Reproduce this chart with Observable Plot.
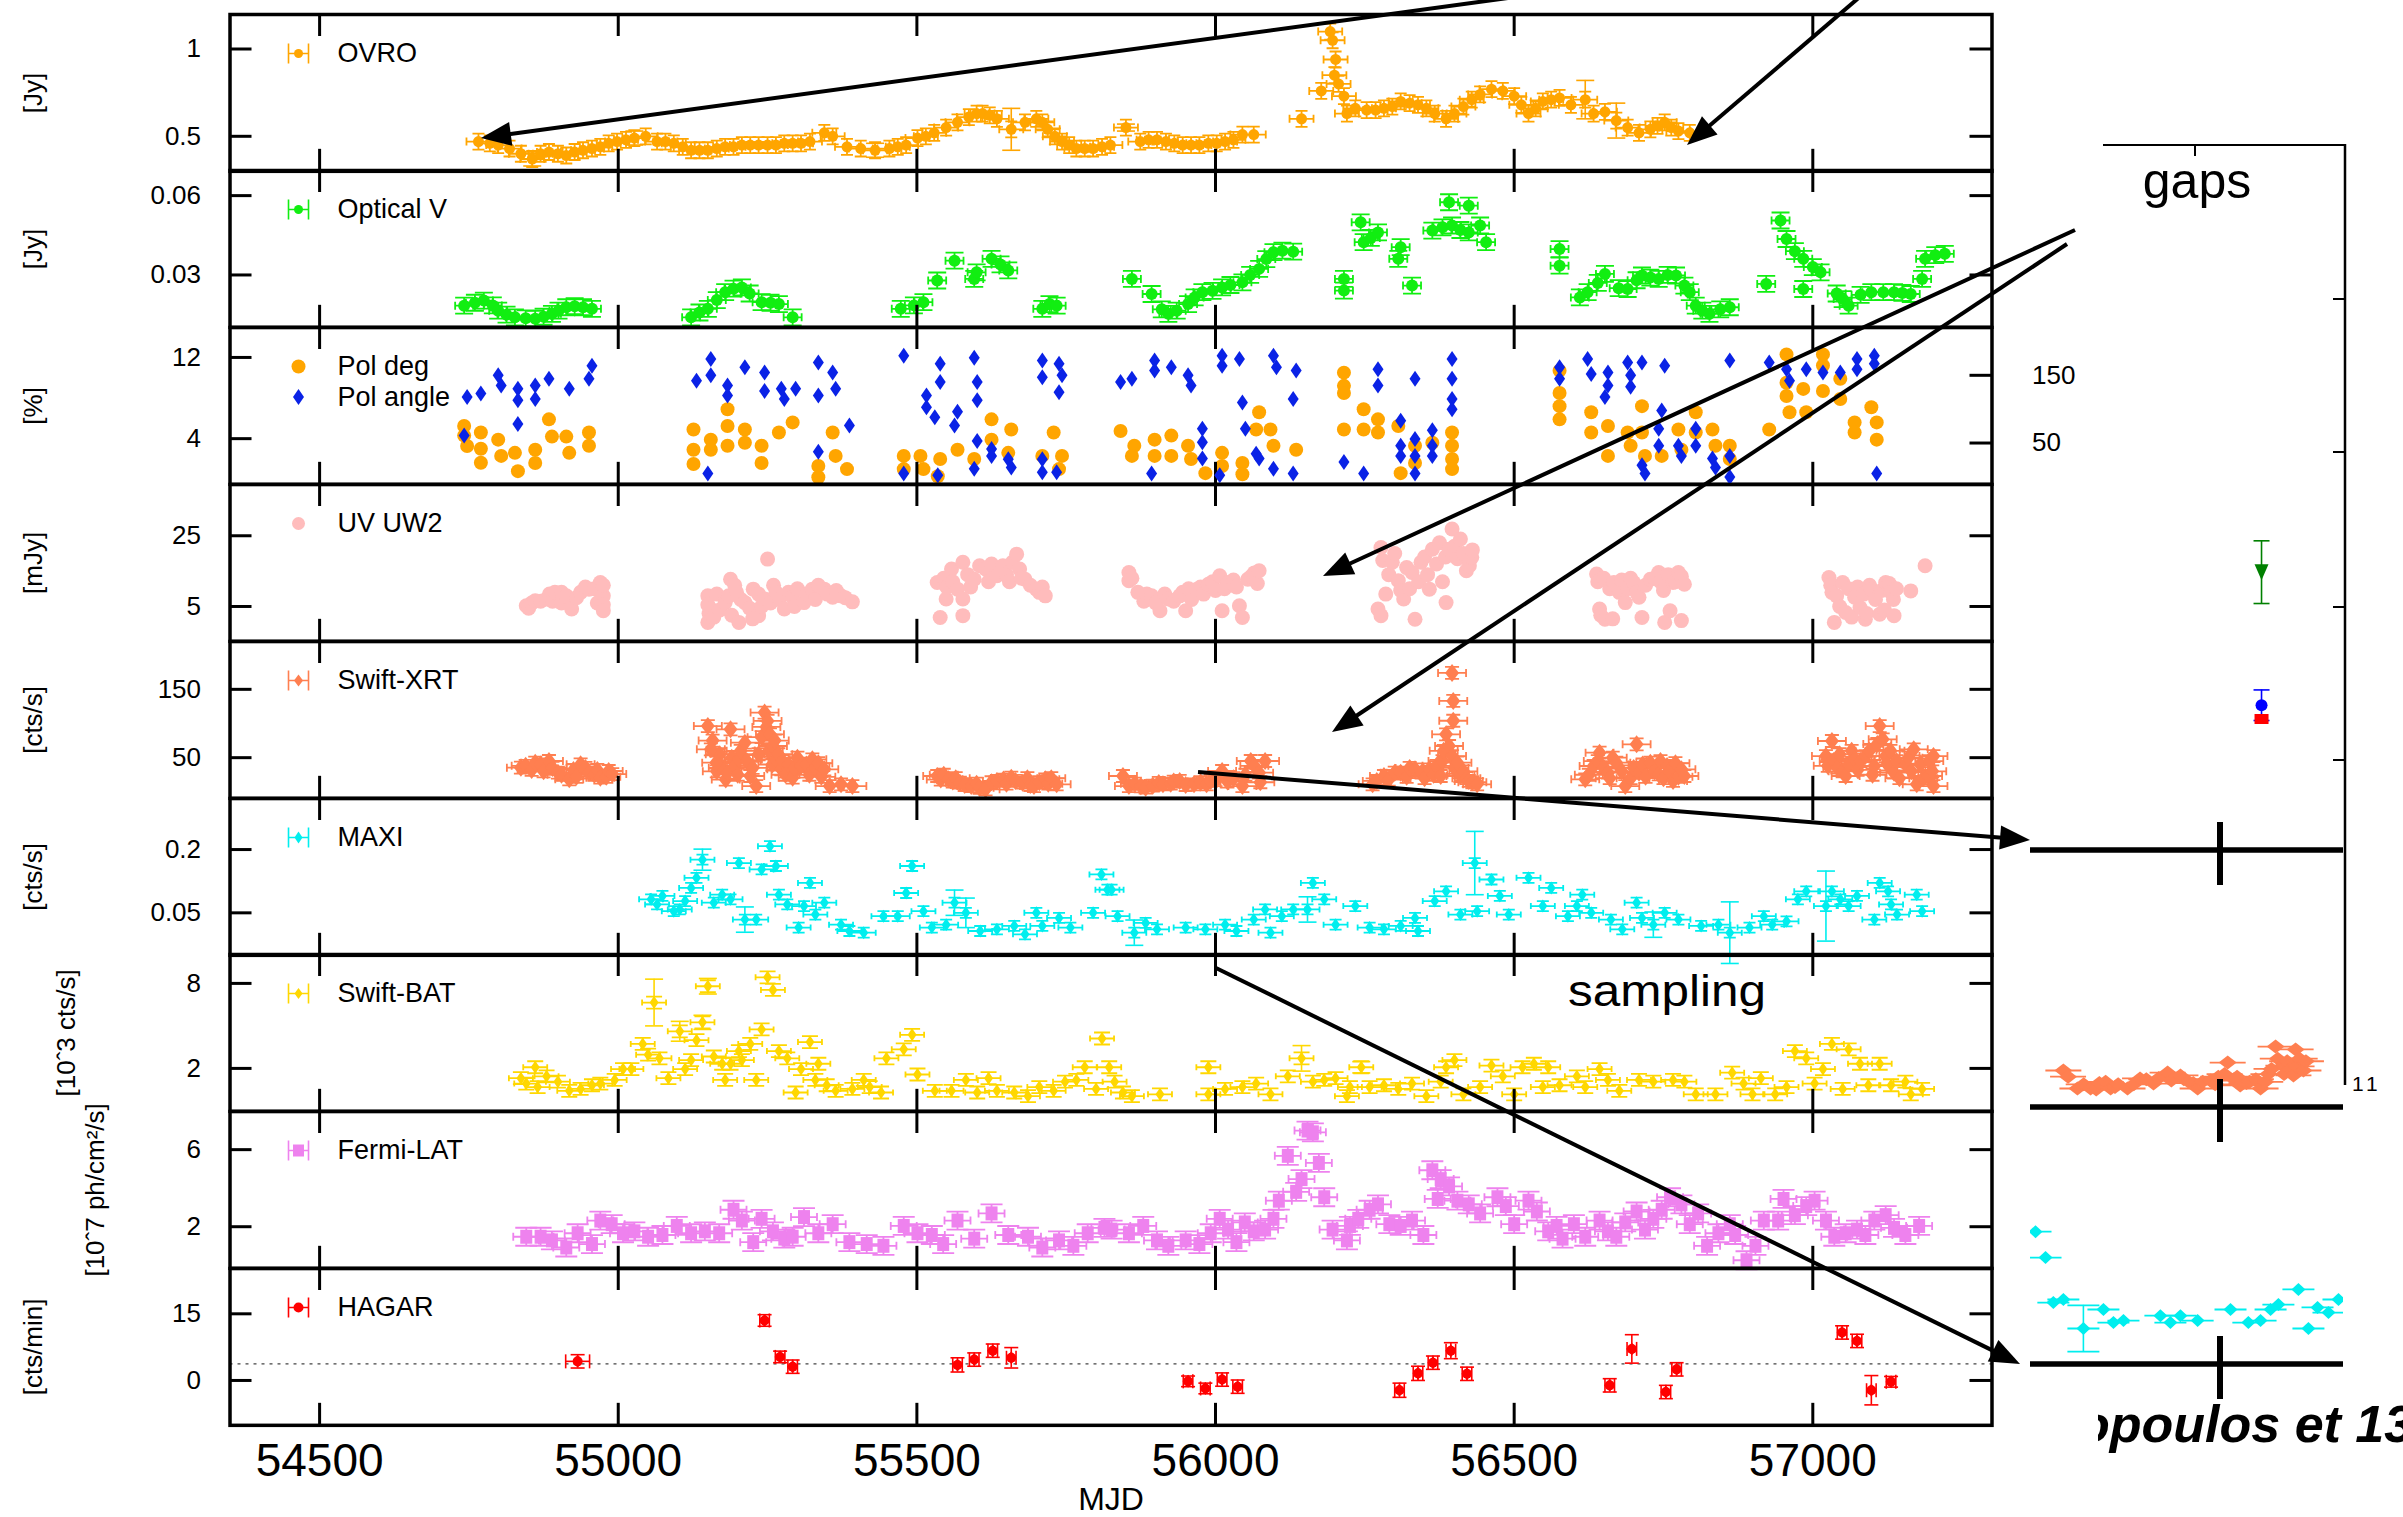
<!DOCTYPE html>
<html><head><meta charset="utf-8">
<script src="https://cdn.jsdelivr.net/npm/d3@7"></script>
<script src="https://cdn.jsdelivr.net/npm/@observablehq/plot@0.6"></script>
<style>
html,body{margin:0;padding:0;background:#fff;}
#page{position:relative;width:2403px;height:1517px;overflow:hidden;background:#fff;font-family:'Liberation Sans',Arial,Helvetica,sans-serif;}
#page svg{position:absolute;}
</style></head><body><div id="page"></div>
<script>
// ---------------- DATA (MJD, value[, err]) ----------------
const xTicks = [54500, 55000, 55500, 56000, 56500, 57000];

const ovro = [[54766,0.47],[54785,0.46],[54799,0.45],[54818,0.43],[54837,0.40],[54856,0.37],[54870,0.40],[54884,0.41],[54899,0.40],[54913,0.39],[54927,0.41],[54941,0.42],[54956,0.43],[54970,0.44],[54984,0.46],[54998,0.47],[55013,0.48],[55027,0.49],[55046,0.50],[55065,0.47],[55079,0.47],[55093,0.46],[55108,0.44],[55122,0.42],[55136,0.42],[55150,0.42],[55165,0.43],[55179,0.44],[55193,0.44],[55207,0.45],[55221,0.45],[55235,0.45],[55250,0.45],[55264,0.45],[55278,0.46],[55292,0.46],[55306,0.46],[55321,0.47],[55345,0.52],[55359,0.50],[55383,0.44],[55406,0.43],[55430,0.42],[55454,0.43],[55468,0.44],[55482,0.45],[55501,0.49],[55515,0.50],[55529,0.52],[55549,0.55],[55568,0.58],[55587,0.61],[55600,0.63],[55610,0.63],[55622,0.62],[55634,0.60],[55658,0.54],[55681,0.58],[55700,0.60],[55710,0.58],[55719,0.54],[55731,0.50],[55743,0.47],[55755,0.45],[55767,0.43],[55781,0.43],[55795,0.43],[55810,0.44],[55824,0.45],[55850,0.55],[55874,0.47],[55888,0.48],[55902,0.48],[55917,0.47],[55931,0.46],[55945,0.45],[55959,0.45],[55973,0.45],[55988,0.46],[56002,0.46],[56016,0.47],[56030,0.48],[56045,0.51],[56064,0.51],[56144,0.60],[56177,0.76],[56192,1.10],[56196,1.05],[56201,0.94],[56199,0.85],[56206,0.80],[56215,0.73],[56220,0.63],[56234,0.66],[56253,0.65],[56268,0.65],[56282,0.66],[56296,0.67],[56310,0.70],[56325,0.69],[56339,0.68],[56353,0.66],[56367,0.63],[56386,0.60],[56400,0.63],[56415,0.67],[56429,0.71],[56443,0.74],[56462,0.77],[56481,0.76],[56500,0.73],[56512,0.68],[56524,0.63],[56536,0.66],[56548,0.70],[56562,0.71],[56576,0.72],[56595,0.68],[56619,0.71],[56633,0.63],[56652,0.64],[56671,0.59],[56690,0.55],[56709,0.52],[56728,0.54],[56740,0.56],[56752,0.58],[56763,0.55],[56775,0.53],[56794,0.52]];
const ovroBig = [[55658,0.54,0.12],[56619,0.71,0.11],[56671,0.59,0.10],[54856,0.37,0.04],[55430,0.42,0.04],[55027,0.49,0.04],[55850,0.55,0.02]];

const optical = [[54742,0.0184],[54760,0.0195],[54775,0.0203],[54790,0.0185],[54799,0.0165],[54813,0.0150],[54827,0.0140],[54845,0.0136],[54861,0.0134],[54875,0.0142],[54889,0.0153],[54900,0.0165],[54913,0.0178],[54927,0.0182],[54941,0.0178],[54956,0.0172],[55122,0.0140],[55136,0.0158],[55150,0.0172],[55165,0.0205],[55179,0.0235],[55193,0.0248],[55207,0.0253],[55220,0.0230],[55240,0.0197],[55255,0.0195],[55269,0.0190],[55292,0.0140],[55473,0.0172],[55495,0.0185],[55511,0.0197],[55534,0.0279],[55563,0.0354],[55596,0.0285],[55600,0.0310],[55625,0.0361],[55640,0.0340],[55653,0.0317],[55710,0.0172],[55722,0.0190],[55734,0.0184],[55860,0.0285],[55893,0.0228],[55910,0.0170],[55921,0.0153],[55935,0.0165],[55954,0.0190],[55965,0.0215],[55978,0.0235],[55995,0.0240],[56011,0.0253],[56025,0.0262],[56045,0.0272],[56058,0.0300],[56073,0.0323],[56085,0.0360],[56097,0.0386],[56112,0.0392],[56130,0.0388],[56215,0.0285],[56215,0.0241],[56243,0.0499],[56248,0.0424],[56260,0.0440],[56272,0.0461],[56306,0.0361],[56310,0.0405],[56329,0.0260],[56363,0.0468],[56380,0.0480],[56391,0.0575],[56396,0.0487],[56410,0.0470],[56424,0.0562],[56424,0.0461],[56443,0.0487],[56453,0.0424],[56576,0.0398],[56576,0.0335],[56610,0.0215],[56623,0.0235],[56640,0.0270],[56652,0.0304],[56675,0.0250],[56690,0.0247],[56705,0.0280],[56714,0.0298],[56728,0.0290],[56742,0.0285],[56757,0.0300],[56771,0.0298],[56785,0.0260],[56794,0.0235],[56804,0.0184],[56815,0.0165],[56827,0.0153],[56845,0.0170],[56861,0.0178],[56922,0.0266],[56946,0.0506],[56956,0.0436],[56970,0.0390],[56984,0.0361],[56984,0.0247],[57000,0.0330],[57013,0.0310],[57040,0.0230],[57050,0.0209],[57060,0.0184],[57080,0.0225],[57098,0.0235],[57118,0.0235],[57136,0.0235],[57150,0.0232],[57164,0.0228],[57183,0.0285],[57188,0.0361],[57205,0.0375],[57221,0.0380]];

const polDeg = [[54742,5.25],[54742,4.3],[54747,3.28],[54770,4.6],[54770,1.63],[54770,3.0],[54799,3.9],[54804,2.3],[54827,2.6],[54832,0.8],[54861,2.9],[54861,1.6],[54884,5.9],[54889,4.2],[54913,4.2],[54918,2.6],[54951,4.6],[54951,3.3],[55126,4.9],[55126,2.9],[55126,1.5],[55155,3.9],[55155,2.9],[55183,6.9],[55183,5.25],[55183,3.3],[55212,4.9],[55212,3.6],[55240,3.3],[55240,1.6],[55269,4.6],[55292,5.6],[55335,1.3],[55335,0.2],[55359,4.6],[55364,2.3],[55383,1.0],[55478,2.3],[55478,1.0],[55506,2.3],[55511,1.0],[55535,0.3],[55539,2.0],[55568,2.9],[55596,2.0],[55625,5.9],[55625,3.9],[55658,4.9],[55653,2.6],[55710,2.3],[55729,4.6],[55743,2.3],[55738,1.0],[55841,4.76],[55864,3.3],[55860,2.3],[55898,3.9],[55898,2.3],[55926,4.3],[55926,2.3],[55954,3.3],[55959,2.0],[55983,0.6],[56011,2.6],[56011,1.3],[56045,1.6],[56045,0.5],[56073,6.6],[56068,4.9],[56092,4.9],[56097,3.3],[56135,2.9],[56215,10.5],[56215,9.2],[56215,8.5],[56215,4.9],[56248,6.9],[56248,4.9],[56272,5.9],[56272,4.6],[56306,5.25],[56310,0.6],[56334,3.3],[56334,1.6],[56363,3.6],[56396,4.6],[56396,3.3],[56396,2.0],[56396,1.0],[56576,10.7],[56576,8.5],[56576,7.2],[56576,5.9],[56629,6.6],[56629,4.6],[56657,5.25],[56657,2.3],[56690,4.6],[56695,3.3],[56714,7.2],[56714,4.6],[56719,2.3],[56747,2.3],[56775,4.9],[56780,2.9],[56804,6.6],[56804,4.6],[56832,4.9],[56837,3.3],[56861,3.3],[56861,2.0],[56927,4.9],[56956,12.3],[56956,9.5],[56956,8.2],[56961,6.6],[56984,8.9],[56989,6.6],[57017,12.3],[57017,11.2],[57017,8.7],[57046,9.9],[57046,7.9],[57070,5.6],[57070,4.6],[57098,7.1],[57107,5.6],[57107,3.9]];

const polAng = [[54747,118],[54770,123],[54799,150],[54804,135],[54832,130],[54832,113],[54861,135],[54861,115],[54884,145],[54918,130],[54951,145],[54956,164],[54742,61],[54832,78],[55131,142],[55155,174],[55155,150],[55183,135],[55183,120],[55212,162],[55245,154],[55245,127],[55273,130],[55278,115],[55297,130],[55335,169],[55335,120],[55359,154],[55364,130],[55335,37],[55387,76],[55150,5],[55478,179],[55516,120],[55516,103],[55530,88],[55539,167],[55539,140],[55568,96],[55563,76],[55596,176],[55601,140],[55601,113],[55601,53],[55625,41],[55625,31],[55653,26],[55658,14],[55596,12],[55478,5],[55535,2.5],[55710,172],[55710,147],[55738,167],[55743,150],[55738,125],[55710,26],[55710,7],[55734,7],[55841,140],[55860,145],[55898,172],[55898,157],[55926,162],[55954,150],[55959,135],[56011,179],[56011,164],[56040,174],[56097,179],[56102,162],[56135,157],[56045,110],[56130,115],[55978,71],[55978,51],[55978,27],[56007,2.5],[55893,5],[56050,71],[56068,34],[56073,27],[56097,12],[56130,5],[56215,22],[56248,5],[56272,159],[56272,135],[56334,145],[56310,83],[56310,46],[56310,31],[56334,56],[56334,31],[56334,5],[56363,69],[56363,46],[56363,31],[56396,174],[56396,145],[56396,115],[56396,100],[56576,162],[56576,145],[56623,174],[56629,152],[56657,154],[56657,135],[56652,118],[56690,169],[56695,150],[56695,133],[56714,169],[56752,164],[56747,98],[56742,71],[56742,46],[56714,17],[56719,5],[56775,46],[56780,31],[56804,71],[56804,46],[56832,27],[56837,14],[56861,31],[56861,0],[56861,172],[56927,169],[56956,159],[56961,142],[56989,159],[57017,154],[57046,154],[57074,174],[57074,159],[57103,179],[57103,167],[57107,5]];

const uv = [[54846,5.2],[54850,4.5],[54855,6],[54861,6.6],[54870,6.5],[54880,7.1],[54885,8.5],[54890,6.5],[54894,9.0],[54905,9],[54905,6],[54913,8.0],[54922,4.3],[54930,7.5],[54937,9.0],[54945,10.5],[54951,9.9],[54960,10],[54965,6],[54970,11.8],[54975,8.0],[54975,11],[54975,5.5],[54975,3.8],
[55150,8.0],[55150,5.5],[55152,3],[55150,0.5],[55155,4.3],[55160,2],[55165,8.5],[55170,4],[55179,6.1],[55185,8],[55188,12.7],[55190,2.5],[55195,11],[55198,9.0],[55202,0.5],[55205,7],[55212,6.1],[55220,4.5],[55225,1.5],[55226,9.9],[55235,8.5],[55235,2.4],[55240,5],[55245,7.1],[55250,18.4],[55255,6],[55260,11],[55264,9.0],[55270,7],[55278,4.3],[55285,9],[55292,7.6],[55295,5],[55300,10],[55311,6.1],[55315,8.5],[55325,9.9],[55330,7],[55335,11],[55345,9.9],[55350,8.5],[55359,7.6],[55365,9.5],[55373,8.0],[55380,7.5],[55392,6.3],
[55534,11.8],[55539,1.9],[55545,13],[55549,7.1],[55550,10.5],[55558,15.6],[55560,12],[55568,9.9],[55577,17.5],[55577,7.1],[55577,2.4],[55585,14],[55590,10.5],[55596,12.7],[55605,16.5],[55615,15.6],[55620,12],[55625,17],[55634,13.7],[55644,16.5],[55650,14],[55655,12],[55660,17.5],[55667,19.8],[55672,15.6],[55675,13],[55681,12.7],[55690,11],[55700,9.9],[55705,9],[55710,10.5],[55715,8.0],
[55855,14.6],[55855,12.3],[55860,13],[55870,9],[55880,6.5],[55885,8.5],[55893,8.0],[55900,6],[55907,3.8],[55915,8.5],[55921,7.1],[55930,6.5],[55940,8.0],[55945,9],[55950,3.8],[55955,10],[55960,7],[55969,9.9],[55975,10.5],[55980,8.5],[55988,11.3],[55995,12],[56000,9.5],[56007,13.7],[56011,3.8],[56015,10],[56021,11.8],[56030,12.5],[56035,10.5],[56040,5.2],[56045,1.9],[56054,12.7],[56060,13.5],[56065,14.5],[56070,11.5],[56073,15.1],
[56277,21.7],[56272,4.3],[56277,2.4],[56280,18],[56285,8.5],[56290,14],[56296,17.5],[56300,20],[56306,12.3],[56310,9.5],[56315,7.1],[56320,16],[56325,10],[56329,14.6],[56334,1.4],[56340,12],[56344,17.5],[56350,19],[56355,14],[56358,9.9],[56363,21.2],[56370,17],[56375,23],[56380,12],[56385,19],[56386,6.1],[56391,21.2],[56396,26.9],[56400,22],[56405,18.5],[56410,24.1],[56415,20],[56420,15.1],[56425,16.5],[56429,18.9],[56430,21],
[56638,14.2],[56640,12],[56643,4.3],[56645,2.5],[56650,13],[56652,1.4],[56660,10],[56665,1.5],[56667,11.8],[56676,9.0],[56680,12.5],[56686,6.1],[56690,10],[56695,13],[56700,11.8],[56705,9],[56709,7.6],[56714,1.9],[56720,11],[56728,12.7],[56735,13],[56742,14.6],[56745,12],[56750,9.5],[56752,0.5],[56758,14],[56761,3.8],[56766,11.8],[56770,12],[56775,14.6],[56780,13.5],[56780,1.0],[56785,11.3],
[57027,13.2],[57030,11],[57032,9.0],[57036,0.5],[57040,8],[57045,5],[57050,11.8],[57055,3.3],[57060,10],[57065,2],[57070,7.6],[57075,10.5],[57079,4.7],[57085,8.5],[57088,1.4],[57090,3],[57095,11],[57098,9.9],[57105,7],[57112,2.8],[57115,9.5],[57120,4],[57122,11.8],[57128,11.5],[57131,9.0],[57135,7],[57136,2.4],[57140,10],[57164,9.4],[57188,16.5]];

const xrt = [[54837,35.4],[54845,38],[54855,32],[54861,42.7],[54870,40],[54875,30],[54884,45.1],[54890,35],[54899,28],[54905,25],[54918,18.3],[54925,32],[54930,22],[54937,40.2],[54945,35],[54951,28],[54960,25],[54965,32],[54970,20.7],[54980,22],[54984,30.5],[54990,26],
[55150,96.3],[55158,75],[55165,30],[55170,55],[55175,35],[55180,18],[55188,91.5],[55155,62.2],[55164,42.7],[55183,28],[55190,50],[55195,38],[55200,25],[55202,47.6],[55205,60],[55212,72],[55215,45],[55221,23.2],[55225,35],[55231,8.5],[55235,55],[55240,80],[55245,116],[55248,95],[55250,103.7],[55252,60],[55254,84.1],[55258,40],[55259,67.1],[55262,75],[55264,47.6],[55268,55],[55273,32.9],[55275,45],[55280,25],[55285,40],[55292,20.7],[55295,35],[55300,50],[55306,37.8],[55315,40],[55320,25],[55325,47.6],[55330,35],[55335,42],[55340,22],[55345,32.9],[55354,8.5],[55373,11],[55392,8.5],
[55534,23.2],[55540,18],[55545,25],[55553,18.3],[55560,15],[55565,20],[55572,13.4],[55580,10],[55591,8.5],[55600,12],[55605,6],[55615,3.7],[55625,14],[55634,15.9],[55645,18],[55650,12],[55658,20.7],[55665,16],[55677,13.4],[55685,20],[55690,10],[55696,8.5],[55705,14],[55715,18.3],[55720,12],[55725,20],[55734,11],
[55845,23.2],[55855,8.5],[55865,12],[55875,8],[55883,6.1],[55895,9],[55905,13],[55912,11],[55925,12],[55930,15],[55940,15.9],[55950,10],[55964,11],[55975,14],[55985,11],[55992,15.9],[56000,17],[56011,30.5],[56020,15],[56030,20],[56045,8.5],[56050,25],[56059,45.1],[56065,38],[56073,28],[56075,14],[56083,45.1],
[56263,11],[56270,16],[56282,23.2],[56290,18],[56300,28],[56310,28],[56320,22],[56325,35],[56334,32.9],[56345,28],[56350,20],[56358,32.9],[56365,25],[56370,38],[56377,23.2],[56380,45],[56382,60],[56386,84.1],[56391,67.1],[56396,174],[56398,133],[56398,104],[56396,52.4],[56400,35],[56405,42.7],[56410,23.2],[56415,30],[56420,20],[56424,15.9],[56430,14],[56438,11],
[56619,18.3],[56625,25],[56633,37.8],[56640,45],[56643,57.3],[56650,35],[56657,28],[56660,20],[56665,50],[56671,42.7],[56680,30],[56686,8.5],[56695,20],[56700,35],[56705,69.5],[56709,28],[56715,40],[56720,22],[56728,42.7],[56735,30],[56742,25.6],[56745,45],[56750,20],[56756,37.8],[56760,30],[56766,15.9],[56770,42],[56775,22],[56780,32.9],[56785,23.2],
[57022,52.4],[57025,38],[57032,74.4],[57035,45],[57041,35.4],[57045,55],[57050,30],[57055,23.2],[57060,40],[57065,60],[57070,47.6],[57075,32],[57080,45],[57088,52.4],[57095,60],[57100,25],[57103,37.8],[57108,70],[57112,96.3],[57117,76.8],[57122,52.4],[57125,40],[57130,60],[57136,28],[57140,45],[57145,20],[57155,40.2],[57160,50],[57165,30],[57169,62.2],[57174,11],[57180,40],[57185,20],[57193,23.2],[57195,45],[57200,30],[57202,52.4],[57202,8.5]];

const maxi = [[55055,0.082],[55065,0.070],[55074,0.090],[55093,0.054],[55103,0.058],[55112,0.078],[55122,0.109],[55131,0.133],[55141,0.176],[55160,0.074],[55174,0.093],[55188,0.082],[55202,0.168],[55212,0.034],[55231,0.034],[55240,0.153],[55254,0.208],[55264,0.161],[55269,0.093],[55283,0.070],[55302,0.015],[55311,0.066],[55321,0.121],[55330,0.046],[55345,0.074],[55373,0.022],[55387,0.007],[55411,0.003],[55444,0.042],[55468,0.042],[55482,0.097],[55492,0.161],[55511,0.054],[55525,0.015],[55549,0.022],[55563,0.074],[55582,0.050],[55606,0.007],[55634,0.011],[55663,0.019],[55681,-0.001],[55700,0.050],[55710,0.019],[55738,0.038],[55757,0.015],[55795,0.050],[55809,0.141],[55819,0.105],[55826,0.105],[55836,0.042],[55864,0.003],[55883,0.026],[55902,0.011],[55950,0.015],[55983,0.011],[56016,0.022],[56035,0.007],[56064,0.034],[56083,0.058],[56092,0.003],[56111,0.042],[56130,0.058],[56154,0.058],[56163,0.121],[56182,0.082],[56201,0.022],[56234,0.066],[56258,0.015],[56282,0.011],[56310,0.019],[56334,0.038],[56339,0.007],[56367,0.078],[56386,0.101],[56410,0.046],[56434,0.168],[56438,0.054],[56462,0.129],[56476,0.090],[56491,0.046],[56524,0.133],[56562,0.109],[56548,0.066],[56590,0.042],[56605,0.066],[56614,0.093],[56629,0.050],[56662,0.034],[56681,0.011],[56705,0.074],[56714,0.038],[56733,0.022],[56752,0.050],[56775,0.034],[56813,0.019],[56842,0.022],[56861,0.003],[56894,0.015],[56918,0.042],[56932,0.022],[56956,0.030],[56975,0.082],[56989,0.101],[57022,0.066],[57032,0.101],[57046,0.082],[57060,0.066],[57074,0.090],[57103,0.034],[57112,0.121],[57126,0.101],[57131,0.070],[57141,0.046],[57174,0.093],[57183,0.054]];
const maxiBig = [[55141,0.176,0.025],[55212,0.034,0.03],[55563,0.074,0.03],[55582,0.050,0.035],[55864,0.003,0.03],[56154,0.058,0.03],[56434,0.168,0.075],[56733,0.022,0.03],[56861,0.003,0.073],[57022,0.066,0.083]];

const bat = [[54837,1.31],[54846,0.93],[54861,2.08],[54865,0.68],[54880,1.44],[54899,1.06],[54918,0.42],[54937,0.55],[54956,0.81],[54970,0.93],[54994,1.19],[55008,1.95],[55022,1.95],[55041,3.73],[55050,2.97],[55060,6.65],[55069,2.71],[55084,1.31],[55103,4.62],[55112,1.95],[55122,2.59],[55131,3.99],[55141,5.25],[55150,7.8],[55160,2.84],[55174,2.33],[55179,1.19],[55188,2.33],[55202,3.22],[55207,2.59],[55221,3.73],[55231,1.19],[55240,4.75],[55250,8.43],[55259,7.54],[55269,3.22],[55283,2.71],[55297,0.3],[55306,1.95],[55321,3.86],[55335,2.33],[55330,1.19],[55349,0.81],[55364,0.42],[55392,0.55],[55411,1.19],[55421,0.68],[55440,0.3],[55449,2.71],[55478,3.35],[55492,4.37],[55501,1.57],[55530,0.42],[55558,0.42],[55582,1.19],[55601,0.3],[55620,1.31],[55634,0.42],[55663,0.3],[55686,0.04],[55705,0.68],[55729,0.42],[55748,1.06],[55767,1.19],[55781,2.08],[55800,0.55],[55810,4.11],[55822,2.08],[55831,1.06],[55845,0.3],[55860,0.04],[55907,0.17],[55988,2.08],[55988,0.17],[56016,0.55],[56045,0.68],[56068,0.93],[56092,0.17],[56121,1.44],[56144,2.71],[56163,1.06],[56182,1.19],[56201,1.31],[56220,0.04],[56225,0.68],[56244,2.08],[56258,0.68],[56282,0.81],[56306,0.55],[56329,0.93],[56353,0.04],[56377,1.06],[56386,2.08],[56400,2.59],[56415,0.17],[56443,0.68],[56462,2.2],[56481,1.44],[56500,0.17],[56514,2.08],[56533,2.33],[56557,2.08],[56548,0.68],[56576,0.81],[56605,1.44],[56619,0.68],[56643,1.95],[56657,1.19],[56676,0.42],[56709,1.19],[56733,1.06],[56766,1.19],[56785,1.06],[56804,0.17],[56837,0.17],[56865,1.7],[56884,0.93],[56899,0.17],[56913,1.31],[56937,0.17],[56956,0.68],[56970,3.22],[56989,2.71],[57003,0.93],[57017,1.95],[57032,3.73],[57050,0.55],[57060,3.35],[57079,2.33],[57093,0.81],[57112,2.33],[57131,0.81],[57155,1.06],[57164,0.17],[57183,0.55]];
const batBig = [[55060,6.65,1.65],[55103,4.62,0.7],[56144,2.71,0.9],[55150,7.8,0.55],[55141,5.25,0.5],[56244,2.08,0.4]];

const lat = [[54846,1.48],[54870,1.48],[54889,1.29],[54913,0.92],[54932,1.66],[54956,1.1],[54970,2.32],[54989,2.13],[55008,1.66],[55027,1.76],[55050,1.48],[55074,1.57],[55098,2.04],[55122,1.66],[55145,1.76],[55169,1.66],[55193,2.88],[55207,2.32],[55226,1.2],[55240,2.41],[55259,1.76],[55278,1.38],[55292,1.48],[55311,2.5],[55335,1.66],[55359,2.13],[55387,1.2],[55416,1.1],[55444,1.01],[55478,2.04],[55501,1.66],[55525,1.57],[55544,1.1],[55568,2.32],[55596,1.38],[55625,2.69],[55653,1.57],[55686,1.48],[55710,0.92],[55738,1.29],[55762,1.01],[55786,1.66],[55814,1.94],[55826,1.85],[55855,1.66],[55879,2.04],[55902,1.29],[55921,1.01],[55950,1.29],[55973,1.1],[55992,1.66],[56007,2.41],[56021,1.85],[56035,1.2],[56049,2.22],[56064,1.76],[56083,1.85],[56097,2.41],[56106,3.35],[56121,5.68],[56135,3.81],[56144,4.47],[56154,6.99],[56163,6.9],[56173,5.31],[56182,3.53],[56196,1.85],[56220,1.29],[56225,2.04],[56239,2.41],[56258,2.88],[56272,3.16],[56291,2.13],[56310,2.04],[56329,2.32],[56348,1.57],[56363,4.93],[56377,4.47],[56391,4.09],[56372,3.44],[56405,3.35],[56424,3.16],[56443,2.69],[56472,3.53],[56486,3.07],[56500,2.13],[56524,3.35],[56538,2.79],[56557,1.76],[56571,2.04],[56581,1.38],[56600,2.13],[56619,1.48],[56643,2.32],[56657,1.76],[56671,1.48],[56686,2.22],[56705,2.79],[56719,1.85],[56733,2.41],[56747,2.88],[56761,3.53],[56780,3.16],[56794,2.13],[56808,2.69],[56823,1.01],[56842,1.66],[56861,2.13],[56870,1.57],[56889,0.26],[56904,1.01],[56918,2.32],[56942,2.32],[56951,3.44],[56970,2.6],[56989,3.07],[57003,3.35],[57022,2.32],[57036,1.48],[57055,1.66],[57074,1.85],[57088,1.57],[57103,2.32],[57122,2.6],[57136,1.94],[57155,1.57],[57178,2.04]];

// HAGAR: MJD, rate, y-error, x-error (days)
const hagar = [[54932,4.3,1.5,20],[55245,13.5,1.3,8],[55271,5.3,1.3,8],[55292,3.1,1.5,8],[55568,3.5,1.6,8],[55596,4.7,1.5,8],[55627,6.7,1.5,8],[55658,5.1,2.3,8],[55954,-0.2,1.2,8],[55983,-1.8,1.2,8],[56011,0.2,1.5,8],[56037,-1.4,1.5,8],[56308,-2.2,1.6,8],[56339,1.6,1.6,8],[56364,4.0,1.5,8],[56394,6.7,1.8,8],[56421,1.5,1.5,8],[56660,-1.1,1.5,8],[56697,7.1,3.2,8],[56754,-2.6,1.5,8],[56772,2.5,1.5,8],[57049,10.8,1.5,8],[57074,8.9,1.5,8],[57098,-2.2,3.3,8],[57131,-0.3,1.2,8]];
const hagarBaseline = [3.73];

// partial inset figure on the right (arbitrary units)
const insetXrt = [[10.5,1.44],[12,1.2],[15,0.74],[17,0.9],[19.2,0.74],[21,0.7],[22,0.95],[24,1.0],[25.6,0.74],[27,0.8],[28,0.9],[31,0.74],[33,0.9],[35,1.13],[37,1.1],[39.3,0.93],[41,1.15],[43.8,1.36],[45,1.05],[47.9,1.25],[49,1.1],[50.5,1.0],[52,0.95],[53.4,0.74],[55,1.0],[57.5,1.05],[59,0.9],[60,1.2],[62,1.3],[63,1.75],[65,1.1],[66,1.2],[67,0.86],[69,0.95],[70,1.0],[72,1.1],[73.5,0.74],[75,1.0],[76,1.3],[77,1.5],[78.3,2.37],[79,1.9],[80.8,1.63],[81,1.3],[82,1.8],[83,1.5],[84,1.25],[84.7,2.26],[85,1.6],[86,1.9],[87.2,1.44],[88,1.8]];
const insetMaxi = [[1.6,5.17],[4.8,4.16],[7.3,2.41],[10.5,2.53],[16.9,1.4],[23.3,2.14],[26.5,1.63],[29.7,1.71],[41.5,1.9],[44.7,1.63],[47.9,1.9],[53.4,1.71],[63.9,2.14],[69.6,1.63],[73.5,1.71],[76.7,2.14],[79.2,2.33],[85.6,2.92],[88.8,1.4],[91.7,2.22],[95.2,2.02],[98.4,2.53]];
const insetMaxiBig = [[16.9,1.4,0.9]];
const gapsGreen = [[6.53,1.23,0.205]];
const gapsBlue = [[6.53,0.36,0.1]];
const gapsRed = [[6.53,0.27]];

// ---------------- LAYOUT / STYLE ----------------
const W = 2403, L = 229.5, R = 1991.5, FW = R - L;
const TOP0 = 13.5, PH = 156.83;
const XD = [54350, 57300];
const FONT = "'Liberation Sans', Arial, Helvetica, sans-serif";
const C = {ovro:"#ffa500", opt:"#11ee11", pdeg:"#ffa500", pang:"#0a22e6", uv:"#ffbcbc", xrt:"#ff7f50", maxi:"#00eeee", bat:"#ffd700", lat:"#ee82ee", hagar:"#ff0000"};

const S = {
  circle: r => ({draw(c){c.moveTo(r,0);c.arc(0,0,r,0,2*Math.PI);c.closePath();}}),
  diamond: (w,h) => ({draw(c){c.moveTo(0,-h);c.lineTo(w,0);c.lineTo(0,h);c.lineTo(-w,0);c.closePath();}}),
  square: (w,h) => ({draw(c){c.moveTo(-w,-h);c.lineTo(w,-h);c.lineTo(w,h);c.lineTo(-w,h);c.closePath();}}),
  tri: (w,h) => ({draw(c){c.moveTo(-w,-h);c.lineTo(w,-h);c.lineTo(0,h);c.closePath();}}),
  err: (hx,hy,cx,cy) => ({draw(c){
    if(hx){c.moveTo(-hx,0);c.lineTo(hx,0); if(cx){c.moveTo(-hx,-cx);c.lineTo(-hx,cx);c.moveTo(hx,-cx);c.lineTo(hx,cx);}}
    if(hy){c.moveTo(0,-hy);c.lineTo(0,hy); if(cy){c.moveTo(-cy,-hy);c.lineTo(cy,-hy);c.moveTo(-cy,hy);c.lineTo(cy,hy);}}
  }}),
  hline: w => ({draw(c){c.moveTo(-w,0);c.lineTo(w,0);}})
};

function series(data, color, o) {
  const X = d => d[0], Y = d => d[1];
  const m = [];
  if (o.big) {
    m.push(Plot.ruleX(o.big, {x: X, y1: d => d[1]-d[2], y2: d => d[1]+d[2], stroke: color, strokeWidth: 1.6}));
    m.push(Plot.dot(o.big.flatMap(d => [[d[0], d[1]-d[2]], [d[0], d[1]+d[2]]]), {x: X, y: Y, symbol: S.hline(o.bigCap || 9), fill: "none", stroke: color, strokeWidth: 1.6}));
  }
  if (o.err) m.push(Plot.dot(data, {x: X, y: Y, symbol: o.err, fill: "none", stroke: color, strokeWidth: o.sw || 1.8}));
  m.push(Plot.dot(data, {x: X, y: Y, symbol: o.sym, fill: color, stroke: "none"}));
  return m;
}

const legErr = S.err(10, 0, 10, 0);

const panels = [
  {domain:[0.2994,1.1976], ticks:[0.5,1], unit:"[Jy]", unitX:33,
   legend:[{label:"OVRO", color:C.ovro, err:legErr, sym:S.circle(4.5)}],
   marks: series(ovro, C.ovro, {sym:S.circle(5.5), err:S.err(12,8,4,6), big:ovroBig, bigCap:9})},
  {domain:[0.0102,0.0695], ticks:[0.03,0.06], unit:"[Jy]", unitX:33,
   legend:[{label:"Optical V", color:C.opt, err:legErr, sym:S.circle(4.5)}],
   marks: series(optical, C.opt, {sym:S.circle(6), err:S.err(9,8,4,9)})},
  {domain:[-0.5,14.95], ticks:[4,12], unit:"[%]", unitX:33, noRight:true,
   legend:[{label:"Pol deg", color:C.pdeg, sym:S.circle(7)}, {label:"Pol angle", color:C.pang, sym:S.diamond(5.5,8)}],
   marks: series(polDeg, C.pdeg, {sym:S.circle(7)})},
  {domain:[-4.86,39.5], ticks:[5,25], unit:"[mJy]", unitX:33,
   legend:[{label:"UV UW2", color:C.uv, sym:S.circle(6.5)}],
   marks: series(uv, C.uv, {sym:S.circle(7.5)})},
  {domain:[-9.5,220], ticks:[50,150], unit:"[cts/s]", unitX:33,
   legend:[{label:"Swift-XRT", color:C.xrt, err:legErr, sym:S.diamond(4.5,6)}],
   marks: series(xrt, C.xrt, {sym:S.diamond(7,9), err:S.err(14,6,4,7)})},
  {domain:[-0.0507,0.321], ticks:[0.05,0.2], unit:"[cts/s]", unitX:33,
   legend:[{label:"MAXI", color:C.maxi, err:legErr, sym:S.diamond(4,6)}],
   marks: series(maxi, C.maxi, {sym:S.diamond(4.5,6.5), err:S.err(12,5,3,6), big:maxiBig, bigCap:9})},
  {domain:[-1.03,10.04], ticks:[2,8], unit:"[10ˆ3 cts/s]", unitX:66,
   legend:[{label:"Swift-BAT", color:C.bat, err:legErr, sym:S.diamond(4,5.5)}],
   marks: series(bat, C.bat, {sym:S.diamond(4.5,6.5), err:S.err(12,6,3,8), big:batBig, bigCap:9})},
  {domain:[-0.16,7.98], ticks:[2,6], unit:"[10ˆ7 ph/cm²/s]", unitX:95,
   legend:[{label:"Fermi-LAT", color:C.lat, err:legErr, sym:S.square(5.5,6)}],
   marks: series(lat, C.lat, {sym:S.square(6,7), err:S.err(13,9,4,11)})},
  {domain:[-10.1,25.2], ticks:[0,15], unit:"[cts/min]", unitX:33,
   legend:[{label:"HAGAR", color:C.hagar, err:legErr, sym:S.circle(5)}],
   marks: [
     Plot.ruleY(hagarBaseline, {y: d => d, stroke: "#444", strokeWidth: 1.3, strokeDasharray: "3,5"}),
     Plot.ruleX(hagar, {x: d => d[0], y1: d => d[1]-d[2], y2: d => d[1]+d[2], stroke: C.hagar, strokeWidth: 1.6}),
     Plot.ruleY(hagar, {y: d => d[1], x1: d => d[0]-d[3], x2: d => d[0]+d[3], stroke: C.hagar, strokeWidth: 1.6}),
     Plot.dot(hagar.flatMap(d => [[d[0], d[1]-d[2]], [d[0], d[1]+d[2]]]), {x: d => d[0], y: d => d[1], symbol: S.hline(7), fill: "none", stroke: C.hagar, strokeWidth: 1.6}),
     Plot.dot(hagar.flatMap(d => [[d[0]-d[3], d[1]], [d[0]+d[3], d[1]]]), {x: d => d[0], y: d => d[1], symbol: S.err(0,7,0,0), fill: "none", stroke: C.hagar, strokeWidth: 1.6}),
     Plot.dot(hagar, {x: d => d[0], y: d => d[1], symbol: S.diamond(5,6.5), fill: C.hagar, stroke: "none"}),
     Plot.dot(hagar, {x: d => d[0], y: d => d[1], symbol: S.circle(5), fill: C.hagar, stroke: "none"})
   ]}
];

const page = document.getElementById("page");
const baseStyle = {background: "transparent", overflow: "visible", fontFamily: FONT, color: "black"};

panels.forEach((p, i) => {
  const last = i === panels.length - 1;
  const dom = p.domain;
  const ax = () => XD[0], ay = () => dom[1];
  const marks = [...p.marks];
  p.legend.forEach((lg, k) => {
    const dy = 39 + k * 30.5;
    if (lg.err) marks.push(Plot.dot([0], {x: ax, y: ay, dx: 68.5, dy, symbol: lg.err, fill: "none", stroke: lg.color, strokeWidth: 1.6}));
    marks.push(Plot.dot([0], {x: ax, y: ay, dx: 68.5, dy, symbol: lg.sym, fill: lg.color, stroke: "none"}));
    marks.push(Plot.text([lg.label], {x: ax, y: ay, dx: 107.5, dy, textAnchor: "start", fontSize: 27, fill: "black"}));
  });
  marks.push(Plot.text([p.unit], {x: ax, y: () => (dom[0] + dom[1]) / 2, dx: p.unitX - L, rotate: -90, fontSize: 26, fill: "black"}));
  marks.push(Plot.frame({stroke: "black", strokeWidth: 3.5}));
  marks.push(Plot.tickX(xTicks, {x: d => d, insetBottom: PH - 22, stroke: "black", strokeWidth: 3}));
  marks.push(Plot.tickX(xTicks, {x: d => d, insetTop: PH - 22, stroke: "black", strokeWidth: 3}));
  marks.push(Plot.tickY(p.ticks, {y: d => d, insetRight: FW - 22, stroke: "black", strokeWidth: 3}));
  if (!p.noRight) marks.push(Plot.tickY(p.ticks, {y: d => d, insetLeft: FW - 22, stroke: "black", strokeWidth: 3}));
  marks.push(Plot.axisY(p.ticks, {anchor: "left", tickSize: 0, tickPadding: 29, fontSize: 26, tickFormat: d => String(d), label: null}));
  if (last) {
    marks.push(Plot.axisX(xTicks, {anchor: "bottom", tickSize: 0, tickPadding: 18, fontSize: 46, tickFormat: d => String(d), label: null}));
    marks.push(Plot.text(["MJD"], {x: () => (XD[0] + XD[1]) / 2, y: () => dom[0], dy: 74, fontSize: 32, fill: "black"}));
  }
  const svg = Plot.plot({
    width: W, height: PH + (last ? 92 : 0),
    marginLeft: L, marginRight: W - R, marginTop: 0, marginBottom: last ? 92 : 0,
    x: last ? {domain: XD} : {domain: XD, axis: null},
    y: {domain: dom},
    style: baseStyle,
    marks
  });
  svg.style.left = "0px"; svg.style.top = (TOP0 + i * PH) + "px";
  page.appendChild(svg);

  if (i === 2) {
    const angDom = [-11, 220.6];
    const angTicks = [50, 150];
    const ov = Plot.plot({
      width: W, height: PH, marginLeft: L, marginRight: W - R, marginTop: 0, marginBottom: 0,
      x: {domain: XD, axis: null}, y: {domain: angDom},
      style: baseStyle,
      marks: [
        ...series(polAng, C.pang, {sym: S.diamond(5.5, 8)}),
        Plot.tickY(angTicks, {y: d => d, insetLeft: FW - 22, stroke: "black", strokeWidth: 3}),
        Plot.axisY(angTicks, {anchor: "right", tickSize: 0, tickPadding: 40, fontSize: 26, tickFormat: d => String(d), label: null})
      ]
    });
    ov.style.left = "0px"; ov.style.top = (TOP0 + i * PH) + "px";
    page.appendChild(ov);
  }
});

// ---------- partial inset figure at right ----------
function insetPlot(left, top, w, h, xd, yd, marks, clip) {
  const s = Plot.plot({width: w, height: h, margin: 0, x: {domain: xd, axis: null}, y: {domain: yd, axis: null},
    style: {background: "transparent", overflow: clip ? "hidden" : "visible"}, marks});
  s.style.left = left + "px"; s.style.top = top + "px";
  page.appendChild(s);
}
insetPlot(2030, 850, 313, 257, [0, 100], [0, 10], series(insetXrt, C.xrt, {sym: S.diamond(9, 7), err: S.err(18, 4, 0, 0)}), true);
insetPlot(2030, 1107, 313, 257, [0, 100], [0, 10], series(insetMaxi, C.maxi, {sym: S.diamond(7, 6.5), err: S.err(16, 4, 0, 0), big: insetMaxiBig, bigCap: 16}), true);
insetPlot(2103, 145, 242, 705, [0, 10], [-0.59, 4.02], [
  ...series(gapsGreen, "#008000", {sym: S.tri(7, 8), big: gapsGreen, bigCap: 8}),
  ...series(gapsBlue, "#0000ff", {sym: S.circle(6), big: gapsBlue, bigCap: 8}),
  ...series(gapsRed, "#ff0000", {sym: S.square(7, 5)})
], false);

// ---------- annotation overlay (arrows, texts, inset frame) ----------
const ovl = d3.select(page).append("svg").attr("width", W).attr("height", 1517).style("left", "0px").style("top", "0px");
function line(x1, y1, x2, y2, w) { ovl.append("line").attr("x1", x1).attr("y1", y1).attr("x2", x2).attr("y2", y2).attr("stroke", "#000").attr("stroke-width", w); }
function arrow(x0, y0, x1, y1) {
  const dx = x1 - x0, dy = y1 - y0, len = Math.hypot(dx, dy), ux = dx / len, uy = dy / len, Lh = 30, Wh = 12;
  const bx = x1 - ux * Lh, by = y1 - uy * Lh;
  line(x0, y0, bx + ux * 2, by + uy * 2, 4);
  ovl.append("polygon").attr("points", [[x1, y1], [bx - uy * Wh, by + ux * Wh], [bx + uy * Wh, by - ux * Wh]].map(p => p.join(",")).join(" ")).attr("fill", "#000");
}
// inset frame pieces
line(2103, 145, 2346, 145, 2);
line(2345, 144, 2345, 1085, 2.5);
line(2195, 145, 2195, 156, 2);
[299, 452, 607, 760].forEach(y => line(2333, y, 2345, y, 2));
[850, 1107, 1364].forEach(y => { line(2030, y, 2343, y, 5.5); line(2220, y - 28, 2220, y + 35, 6); });
// arrows
arrow(1530, -5, 481, 138);
arrow(1862, -5, 1687, 145);
arrow(2075, 230, 1323, 576);
arrow(2067, 244, 1332, 732);
arrow(1198, 772, 2030, 840);
arrow(1216, 968, 2020, 1364);
// texts
ovl.append("text").attr("x", 2197).attr("y", 198).attr("text-anchor", "middle").attr("font-family", FONT).attr("font-size", 50).text("gaps");
ovl.append("text").attr("x", 1568).attr("y", 1006).attr("font-family", FONT).attr("font-size", 44).attr("textLength", 198).attr("lengthAdjust", "spacingAndGlyphs").text("sampling");
ovl.append("text").attr("x", 2352).attr("y", 1091).attr("font-family", FONT).attr("font-size", 21).attr("letter-spacing", 4).text("11");
ovl.append("clipPath").attr("id", "cp").append("rect").attr("x", 2098).attr("y", 1380).attr("width", 400).attr("height", 137);
ovl.append("text").attr("clip-path", "url(#cp)").attr("x", 2078).attr("y", 1442).attr("font-family", FONT).attr("font-size", 52).attr("font-weight", "bold").attr("font-style", "italic").text("opoulos et 13");
</script></body></html>
